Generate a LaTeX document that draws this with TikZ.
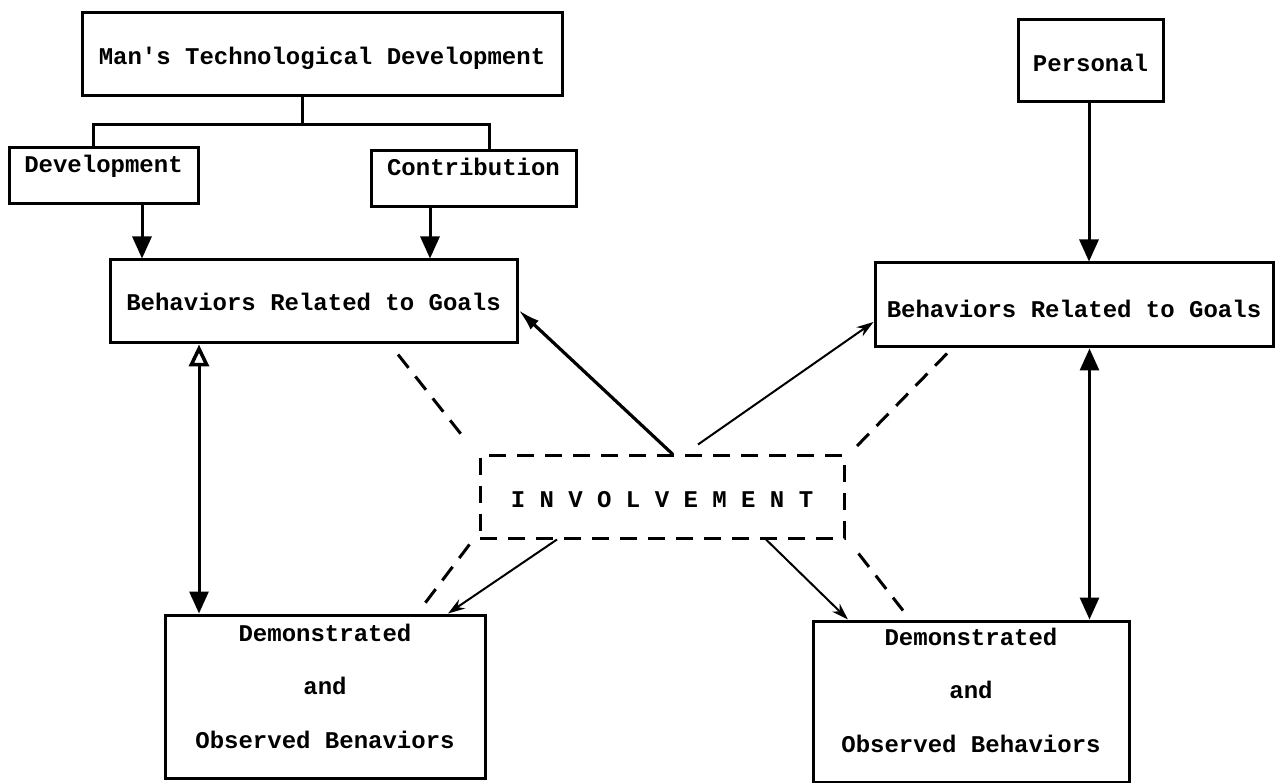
\documentclass[tikz,border=0pt]{standalone}
\usepackage{fontspec}
\newfontfamily\tw{Liberation Mono}
\usetikzlibrary{arrows.meta,calc}
\newcommand\bx[2]{\raisebox{#1}[0pt][0pt]{#2}}
\begin{document}
\begin{tikzpicture}[x=1pt,y=-1pt,
  box/.style={draw, line width=3pt, rectangle, inner sep=0pt,
    font=\tw\bfseries\fontsize{24}{28.8}\selectfont},
  conn/.style={line width=3pt},
  arr/.style={conn, -{Triangle[length=22pt,width=19pt]}},
  dblarr/.style={conn, {Triangle[open,length=22pt,width=20pt,line width=3.5pt]}-{Triangle[length=22pt,width=19pt]}},
  dblarrb/.style={conn, {Triangle[length=22pt,width=19pt]}-{Triangle[length=22pt,width=19pt]}},
  thickdiag/.style={line width=3.2pt, -{Latex[length=22pt,width=12pt]}},
  thindiag/.style={line width=2pt, -{Stealth[length=17pt,width=11pt]}},
  dashline/.style={line width=3pt, dash pattern=on 17pt off 11pt},
]
\useasboundingbox (0,0) rectangle (1275,783);
\fill[white] (0,0) rectangle (1275,783);

% boxes
\node[box, minimum width=480pt, minimum height=83pt] (man) at (322,54.5)
  {\bx{-10.5pt}{Man's Technological Development}};
\node[box, minimum width=189pt, minimum height=56pt] (dev) at (103.5,176)
  {\bx{3pt}{Development}};
\node[box, minimum width=205pt, minimum height=56pt] (contrib) at (473.5,179)
  {\bx{3pt}{Contribution}};
\node[box, minimum width=407pt, minimum height=83pt] (lbeh) at (313.5,301.5)
  {\bx{-9.5pt}{Behaviors Related to Goals}};
\node[box, minimum width=145pt, minimum height=82pt] (pers) at (1090.5,61)
  {\bx{-11pt}{Personal}};
\node[box, minimum width=398pt, minimum height=84pt] (rbeh) at (1074,305)
  {\bx{-12.5pt}{Behaviors Related to Goals}};
\node[box, dashline, minimum width=364pt, minimum height=82pt] (inv) at (662,497)
  {\bx{-10pt}{I N V O L V E M E N T}};
\node[box, minimum width=320pt, minimum height=163pt] (ldem) at (325,696.5)
  {\bx{55.5pt}{\begin{tabular}[t]{@{}c@{}}Demonstrated\\[25pt]and\\[25pt]Observed Benaviors\end{tabular}}};
\node[box, minimum width=316pt, minimum height=161pt] (rdem) at (971,701.5)
  {\bx{56.5pt}{\begin{tabular}[t]{@{}c@{}}Demonstrated\\[25pt]and\\[25pt]Observed Behaviors\end{tabular}}};

% tree
\draw[conn] ([xshift=-20pt]man.south) -- ++(0,27) coordinate (tj);
\draw[conn] ([xshift=-10.5pt]dev.north) |- (tj) -| ([xshift=15.5pt]contrib.north);

% vertical arrows
\draw[arr] ([xshift=38.5pt]dev.south) -- ([xshift=38.5pt]dev.south |- lbeh.north);
\draw[arr] ([xshift=-43.5pt]contrib.south) -- ([xshift=-43.5pt]contrib.south |- lbeh.north);
\draw[arr] ([xshift=-1.5pt]pers.south) -- ([xshift=-1.5pt]pers.south |- rbeh.north);
\draw[dblarr] ([xshift=-114.5pt]lbeh.south) -- ([xshift=-114.5pt]lbeh.south |- ldem.north);
\draw[dblarrb] ([xshift=15.5pt]rbeh.south) -- ([xshift=15.5pt]rbeh.south |- rdem.north);

% diagonal arrows from involvement
\draw[thickdiag] ([xshift=11pt]inv.north) -- ([yshift=-8.5pt]lbeh.east);
\draw[thindiag] ([xshift=36pt,yshift=10pt]inv.north) -- ([yshift=-17pt]rbeh.west);
\draw[thindiag] ([xshift=-105pt]inv.south) -- ([xshift=123pt]ldem.north);
\draw[thindiag] ([xshift=104pt]inv.south) -- ([xshift=-123pt]rdem.north);

% dashed connectors
\draw[dashline] ([xshift=84.5pt,yshift=-10pt]lbeh.south) -- ([xshift=-14pt,yshift=16pt]inv.north west);
\draw[dashline] ([xshift=-127pt,yshift=-5pt]rbeh.south) -- ([xshift=11pt,yshift=8pt]inv.north east);
\draw[dashline] ([xshift=-9pt,yshift=-5pt]inv.south west) -- ([xshift=96pt,yshift=5pt]ldem.north);
\draw[dashline] ([xshift=13pt,yshift=-14pt]inv.south east) -- ([xshift=-68pt,yshift=9pt]rdem.north);
\end{tikzpicture}
\end{document}
